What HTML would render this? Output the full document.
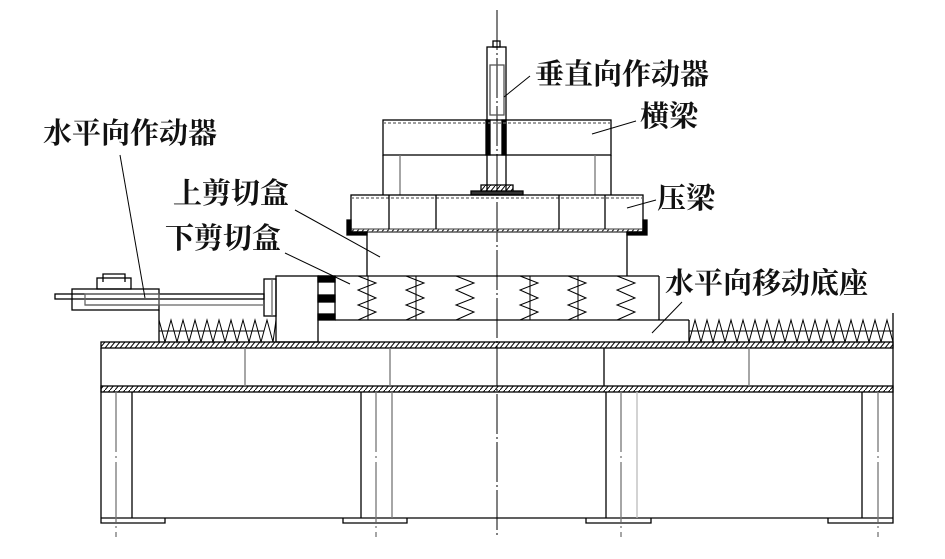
<!DOCTYPE html>
<html><head><meta charset="utf-8"><style>
html,body{margin:0;padding:0;background:#fff}
svg{display:block}
text{font-family:"Liberation Serif","Noto Serif CJK SC",serif;font-size:29px;font-weight:bold;fill:#111}
</style></head><body>
<svg width="945" height="559" viewBox="0 0 945 559" xmlns="http://www.w3.org/2000/svg">
<defs>
<pattern id="h" width="5" height="6" patternUnits="userSpaceOnUse"><line x1="0" y1="6" x2="5" y2="0" stroke="#000" stroke-width="1"/></pattern>
<path id="sp" d="M-10 0L8 7L-10 14L8 22L-10 29L8 36L-10 44" fill="none" stroke="#000" stroke-width="1"/>
</defs>
<g fill="none" stroke="#000" stroke-width="1.3">
<line x1="497" y1="10" x2="497" y2="537" stroke-dasharray="40,3,2,3" stroke-width="1"/>
<rect x="493" y="41" width="7" height="6"/>
<rect x="487" y="47" width="19" height="146"/>
<rect x="490" y="65" width="14" height="50" stroke="#555"/>
<rect x="486" y="120" width="4" height="35" fill="#000"/>
<rect x="502" y="120" width="4" height="35" fill="#000"/>
<rect x="481" y="185" width="32" height="7" fill="url(#h)"/>
<rect x="471" y="191" width="52" height="4" fill="#333"/>
<rect x="383" y="120" width="228" height="35"/>
<line x1="383" y1="123" x2="611" y2="123" stroke="#666" stroke-dasharray="3,2"/>
<line x1="383" y1="155" x2="383" y2="195"/><line x1="611" y1="155" x2="611" y2="195"/>
<line x1="400" y1="155" x2="400" y2="195" stroke="#777"/><line x1="595" y1="155" x2="595" y2="195" stroke="#777"/>
<rect x="351" y="195" width="292" height="37"/>
<line x1="351" y1="198" x2="643" y2="198" stroke="#666" stroke-dasharray="3,2"/>
<rect x="351" y="229" width="292" height="3" fill="url(#h)" stroke="#666"/>
<line x1="389" y1="195" x2="389" y2="229"/><line x1="436" y1="195" x2="436" y2="229"/>
<line x1="559" y1="195" x2="559" y2="229"/><line x1="605" y1="195" x2="605" y2="229"/>
<path d="M347 220V235H367V232H351V220Z" fill="#000"/>
<path d="M647 220V235H627V232H643V220Z" fill="#000"/>
<line x1="367" y1="232" x2="367" y2="276"/><line x1="627" y1="232" x2="627" y2="276"/>
<rect x="276" y="276" width="42" height="66"/>
<line x1="318" y1="276" x2="659" y2="276"/>
<line x1="659" y1="276" x2="659" y2="320"/>
<line x1="335" y1="320" x2="689" y2="320"/>
<line x1="689" y1="320" x2="689" y2="342"/>
<rect x="318" y="276" width="17" height="6" fill="#000"/>
<rect x="318" y="295" width="17" height="7" fill="#000"/>
<rect x="318" y="314" width="17" height="6" fill="#000"/>
<line x1="335" y1="276" x2="335" y2="320"/>
<use href="#sp" x="368" y="276"/><line x1="368" y1="276" x2="368" y2="320" stroke-width="1"/>
<use href="#sp" x="416" y="276"/><line x1="416" y1="276" x2="416" y2="320" stroke-width="1"/>
<use href="#sp" x="466" y="276"/>
<use href="#sp" x="530" y="276"/><line x1="530" y1="276" x2="530" y2="320" stroke-width="1"/>
<use href="#sp" x="578" y="276"/><line x1="578" y1="276" x2="578" y2="320" stroke-width="1"/>
<use href="#sp" x="627" y="276"/>
<rect x="264" y="279" width="12" height="37"/>
<line x1="272" y1="279" x2="272" y2="316" stroke="#666"/>
<rect x="55" y="294" width="209" height="5"/>
<line x1="85" y1="305" x2="264" y2="305" stroke="#666"/>
<rect x="72" y="289" width="87" height="21"/>
<rect x="85" y="294" width="74" height="11" stroke="#666"/>
<rect x="97" y="278" width="34" height="11"/>
<path d="M103 282V274H125V282" />
<line x1="159" y1="310" x2="159" y2="342"/>
<line x1="159" y1="331" x2="264" y2="331" stroke-width="1"/>
<path stroke-width="1" d="M159 320L165 342L171 320L177 342L183 320L189 342L195 320L201 342L207 320L213 342L219 320L225 342L231 320L237 342L243 320L249 342L255 320L261 342L267 320L273 342L276 320"/>
<line x1="689" y1="331" x2="893" y2="331" stroke-width="1"/>
<path stroke-width="1" d="M689 342L695 320L701 342L707 320L713 342L719 320L725 342L731 320L737 342L743 320L749 342L755 320L761 342L767 320L773 342L779 320L785 342L791 320L797 342L803 320L809 342L815 320L821 342L827 320L833 342L839 320L845 342L851 320L857 342L863 320L869 342L875 320L881 342L887 320L893 342"/>
<line x1="893" y1="313" x2="893" y2="518"/>
<rect x="101" y="342" width="792" height="6" fill="url(#h)"/>
<rect x="101" y="386" width="792" height="6" fill="url(#h)"/>
<line x1="101" y1="348" x2="101" y2="518"/>
<line x1="245" y1="348" x2="245" y2="386" stroke="#777"/>
<line x1="390" y1="348" x2="390" y2="386" stroke="#777"/>
<line x1="604" y1="348" x2="604" y2="386"/>
<line x1="749" y1="348" x2="749" y2="386" stroke="#777"/>
<line x1="101" y1="518" x2="893" y2="518"/>
<line x1="132" y1="392" x2="132" y2="518"/>
<line x1="361" y1="392" x2="361" y2="518"/><line x1="392" y1="392" x2="392" y2="518" stroke="#777"/>
<line x1="606" y1="392" x2="606" y2="518"/><line x1="637" y1="392" x2="637" y2="518" stroke="#bbb"/>
<line x1="862" y1="392" x2="862" y2="518"/>
<g stroke="#777" stroke-dasharray="60,4,2,4">
<line x1="116" y1="392" x2="116" y2="537"/><line x1="376" y1="392" x2="376" y2="537"/>
<line x1="621" y1="392" x2="621" y2="537"/><line x1="878" y1="392" x2="878" y2="537"/>
</g>
<path d="M101 518V523H165V518 M343 518V523H407V518 M586 518V523H651V518 M828 518V523H893V518"/>
<g stroke-width="1">
<line x1="530" y1="76" x2="504" y2="97"/>
<line x1="636" y1="121" x2="592" y2="134"/>
<line x1="656" y1="200" x2="627" y2="208"/>
<line x1="682" y1="302" x2="652" y2="333"/>
<line x1="295" y1="210" x2="380" y2="257"/>
<line x1="285" y1="253" x2="350" y2="284"/>
<line x1="120" y1="155" x2="145" y2="298"/>
</g>
</g>
<text x="535" y="84">垂直向作动器</text>
<text x="640" y="126">横梁</text>
<text x="657" y="208">压梁</text>
<text x="665" y="293">水平向移动底座</text>
<text x="43" y="143">水平向作动器</text>
<text x="173" y="203">上剪切盒</text>
<text x="165" y="248">下剪切盒</text>
</svg>
</body></html>
